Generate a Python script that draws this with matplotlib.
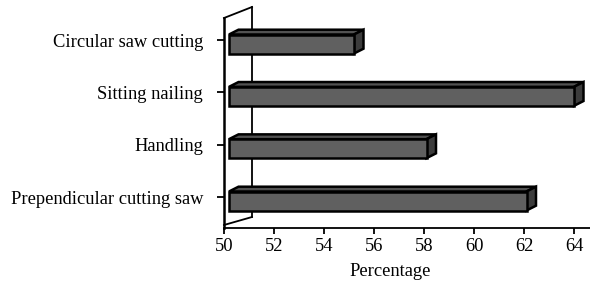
import matplotlib
matplotlib.use("Agg")
import matplotlib.pyplot as plt
from matplotlib.patches import Polygon

categories = ["Circular saw cutting", "Sitting nailing", "Handling", "Prependicular cutting saw"]
values = [55.0, 63.8, 57.9, 61.9]
xticks = [50, 52, 54, 56, 58, 60, 62, 64]

W, H = 590, 291
fig = plt.figure(figsize=(W / 100, H / 100), dpi=100)
plt.rcParams['font.family'] = ['Liberation Serif', 'DejaVu Serif']

ax_left, ax_right, ax_top, ax_bot = 224, 590, 18, 228
ax = fig.add_axes([ax_left / W, 1 - ax_bot / H, (ax_right - ax_left) / W, (ax_bot - ax_top) / H])

xmin = 50
px_per_x = 25.0
xmax = xmin + (ax_right - ax_left) / px_per_x
tick_px = [40, 92.3, 144.7, 197]
py_per_y = (tick_px[-1] - tick_px[0]) / 3
ytop = -(tick_px[0] - ax_top) / py_per_y
ybot = 3 + (ax_bot - tick_px[-1]) / py_per_y
ax.set_xlim(xmin, xmax)
ax.set_ylim(ybot, ytop)

def dx(p):
    return p / px_per_x

def dy(p):
    return p / py_per_y

front_col = "#606060"
top_col = "#525252"
side_col = "#3c3c3c"
lw = 1.8

bar_off_x = dx(5)
bar_off_y = dy(4)
half_h = dy(9.5)
ddx, ddy = dx(9.5), dy(-4.8)

for i, v in enumerate(values):
    x0 = xmin + bar_off_x
    x1 = v + bar_off_x
    yc = i + bar_off_y
    yt, yb = yc - half_h, yc + half_h
    top = [(x0, yt), (x1, yt), (x1 + ddx, yt + ddy), (x0 + ddx, yt + ddy)]
    side = [(x1, yt), (x1, yb), (x1 + ddx, yb + ddy), (x1 + ddx, yt + ddy)]
    front = [(x0, yt), (x1, yt), (x1, yb), (x0, yb)]
    for pts, c in [(top, top_col), (side, side_col), (front, front_col)]:
        ax.add_patch(Polygon(pts, closed=True, facecolor=c, edgecolor="black",
                             linewidth=lw, joinstyle="miter", clip_on=False, zorder=3))

wdx, wdy = dx(28), dy(-11)
wall_kw = dict(color="black", linewidth=1.3, clip_on=False, zorder=2)
ax.plot([xmin + wdx, xmin + wdx], [ytop + wdy, ybot + dy(-11)], **wall_kw)
ax.plot([xmin, xmin + wdx], [ytop, ytop + wdy], **wall_kw)
ax.plot([xmin, xmin + wdx], [ybot - dy(3), ybot + dy(-11)], **wall_kw)

for s in ["top", "right"]:
    ax.spines[s].set_visible(False)
ax.spines["left"].set_linewidth(1.8)
ax.spines["bottom"].set_linewidth(1.3)

fs = 13.3
ax.set_xticks(xticks)
ax.set_xticklabels([str(t) for t in xticks], fontsize=fs)
ax.set_yticks(range(len(categories)))
ax.set_yticklabels(categories, fontsize=fs)
ax.tick_params(axis="x", direction="out", length=4, width=1.3, pad=3)
ax.tick_params(axis="y", direction="out", length=5, width=1.3, pad=10)
ax.set_xlabel("Percentage", fontsize=fs)
ax.xaxis.set_label_coords((390 - ax_left) / (ax_right - ax_left), -(271 - ax_bot) / (ax_bot - ax_top))
ax.xaxis.label.set_va("center")

fig.savefig("out.png", dpi=100)
